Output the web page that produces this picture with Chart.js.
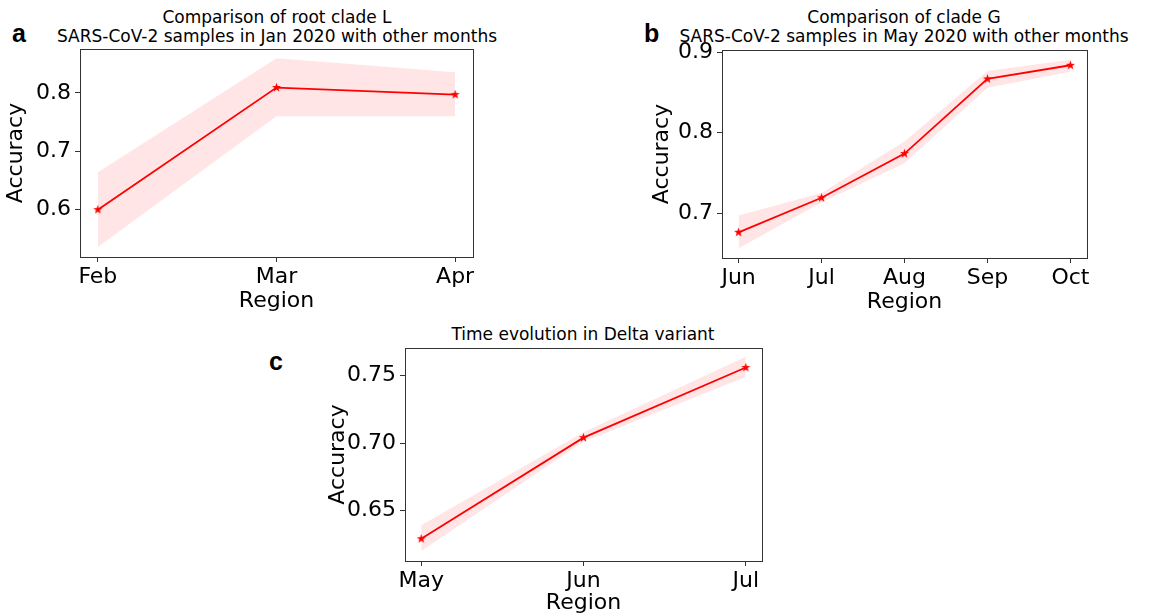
<!DOCTYPE html>
<html>
<head>
<meta charset="utf-8">
<script src="https://cdn.jsdelivr.net/npm/chart.js@4.4.1/dist/chart.umd.min.js"></script>
<style>
  html, body { margin: 0; padding: 0; background: #fff; }
  body { width: 1155px; height: 616px; position: relative; overflow: hidden; font-family: "DejaVu Sans", sans-serif; }
  canvas { position: absolute; }
  .ttl { position: absolute; width: 600px; font-family: "DejaVu Sans", sans-serif; font-size: 17px; line-height: 19px; color: #000; text-align: center; white-space: nowrap; }
  .lbl { position: absolute; font-family: "Liberation Sans", Arial, sans-serif; font-weight: bold; font-size: 25px; line-height: 25px; color: #000; }
</style>
</head>
<body>
<div class="lbl" style="left:12px; top:21px;">a</div>
<div class="lbl" style="left:644px; top:21px;">b</div>
<div class="lbl" style="left:269px; top:349px;">c</div>
<div class="ttl" style="left:-23px; top:8px;">Comparison of root clade L<br>SARS-CoV-2 samples in Jan 2020 with other months</div>
<div class="ttl" style="left:604px; top:8px;">Comparison of clade G<br>SARS-CoV-2 samples in May 2020 with other months</div>
<div class="ttl" style="left:283px; top:325px;">Time evolution in Delta variant</div>

<canvas id="ca" width="520" height="320" style="left:0px; top:0px;"></canvas>
<canvas id="cb" width="509" height="320" style="left:646px; top:0px;"></canvas>
<canvas id="cc" width="500" height="296" style="left:322px; top:320px;"></canvas>

<script>
// ---- Data ----
const monthsA = ["Feb", "Mar", "Apr"];
const meanA   = [0.600, 0.809, 0.797];
const upperA  = [0.664, 0.859, 0.835];
const lowerA  = [0.536, 0.760, 0.760];
const yTicksA = [0.6, 0.7, 0.8];
const yTickLabelsA = ["0.6", "0.7", "0.8"];

const monthsB = ["Jun", "Jul", "Aug", "Sep", "Oct"];
const meanB   = [0.676, 0.719, 0.774, 0.867, 0.884];
const upperB  = [0.697, 0.725, 0.789, 0.877, 0.891];
const lowerB  = [0.656, 0.713, 0.762, 0.856, 0.876];
const yTicksB = [0.7, 0.8, 0.9];
const yTickLabelsB = ["0.7", "0.8", "0.9"];

const monthsC = ["May", "Jun", "Jul"];
const meanC   = [0.629, 0.704, 0.756];
const upperC  = [0.639, 0.708, 0.764];
const lowerC  = [0.620, 0.701, 0.749];
const yTicksC = [0.65, 0.70, 0.75];
const yTickLabelsC = ["0.65", "0.70", "0.75"];

// ---- Star marker (filled 5-point star like matplotlib '*') ----
function makeStar(size, rOut, rIn, color) {
  const c = document.createElement('canvas');
  c.width = size; c.height = size;
  const g = c.getContext('2d');
  const cx = size / 2, cy = size / 2;
  g.beginPath();
  for (let i = 0; i < 10; i++) {
    const r = (i % 2 === 0) ? rOut : rIn;
    const a = -Math.PI / 2 + i * Math.PI / 5;
    const x = cx + r * Math.cos(a), y = cy + r * Math.sin(a);
    if (i === 0) g.moveTo(x, y); else g.lineTo(x, y);
  }
  g.closePath();
  g.fillStyle = color;
  g.fill();
  return c;
}
const star = makeStar(11, 4.8, 2.0, '#ff0000');

const boxPlugin = {
  id: 'box',
  afterDraw(chart) {
    const { ctx, chartArea: a } = chart;
    ctx.save();
    ctx.strokeStyle = '#333';
    ctx.lineWidth = 1;
    ctx.strokeRect(Math.round(a.left) + 0.5, Math.round(a.top) + 0.5,
                   Math.round(a.right - a.left), Math.round(a.bottom - a.top));
    ctx.restore();
  }
};

const FONT = "'DejaVu Sans', sans-serif";
const FS = 22;

function makeChart(id, cats, mean, upper, lower, yTicks, yLabels, opts) {
  const n = cats.length;
  const margin = (n - 1) * 0.05;
  const toXY = arr => arr.map((v, i) => ({ x: i, y: v }));
  return new Chart(document.getElementById(id), {
    type: 'line',
    data: {
      datasets: [
        { data: toXY(mean), borderColor: '#ff0000', borderWidth: 1.8, pointStyle: star,
          pointRadius: 5, fill: false, tension: 0 },
        { data: toXY(upper), borderWidth: 0, pointRadius: 0, fill: '+1',
          backgroundColor: 'rgba(255,0,0,0.1)', tension: 0 },
        { data: toXY(lower), borderWidth: 0, pointRadius: 0, fill: false, tension: 0 }
      ]
    },
    options: {
      responsive: false,
      animation: false,
      events: [],
      layout: { padding: { top: opts.top, right: opts.right, left: 0, bottom: 0 } },
      plugins: { legend: { display: false }, tooltip: { enabled: false }, title: { display: false } },
      scales: {
        x: {
          type: 'linear',
          min: -margin, max: (n - 1) + margin,
          afterBuildTicks: s => { s.ticks = cats.map((c, i) => ({ value: i })); },
          afterFit: s => { s.height = opts.xh; },
          border: { display: false },
          grid: { drawOnChartArea: false, drawTicks: true, tickLength: 5, color: '#333', lineWidth: 1 },
          ticks: { color: '#000', font: { family: FONT, size: FS }, padding: 2,
                   maxRotation: 0, autoSkip: false,
                   callback: v => cats[Math.round(v)] },
          title: { display: true, text: 'Region', color: '#000', font: { family: FONT, size: FS },
                   padding: { top: 0, bottom: opts.xtp } }
        },
        y: {
          type: 'linear',
          min: opts.ymin, max: opts.ymax,
          afterBuildTicks: s => { s.ticks = yTicks.map(v => ({ value: v })); },
          afterFit: s => { s.width = opts.yw; },
          border: { display: false },
          grid: { drawOnChartArea: false, drawTicks: true, tickLength: 5, color: '#333', lineWidth: 1 },
          ticks: { color: '#000', font: { family: FONT, size: FS }, padding: 4, autoSkip: false,
                   callback: v => { const k = yTicks.findIndex(t => Math.abs(t - v) < 1e-9); return k >= 0 ? yLabels[k] : ''; } },
          title: { display: true, text: 'Accuracy', color: '#000', font: { family: FONT, size: FS },
                   padding: { top: 3, bottom: 3 } }
        }
      }
    },
    plugins: [boxPlugin]
  });
}

makeChart('ca', monthsA, meanA, upperA, lowerA, yTicksA, yTickLabelsA,
  { top: 49, right: 47, xh: 63, yw: 80, ymin: 0.519, ymax: 0.875, xtp: 5.1 });
makeChart('cb', monthsB, meanB, upperB, lowerB, yTicksB, yTickLabelsB,
  { top: 50, right: 68, xh: 62, yw: 76, ymin: 0.644, ymax: 0.903, xtp: 4.8 });
makeChart('cc', monthsC, meanC, upperC, lowerC, yTicksC, yTickLabelsC,
  { top: 28, right: 60, xh: 55, yw: 83, ymin: 0.6125, ymax: 0.7705, xtp: 0 });
</script>
</body>
</html>
